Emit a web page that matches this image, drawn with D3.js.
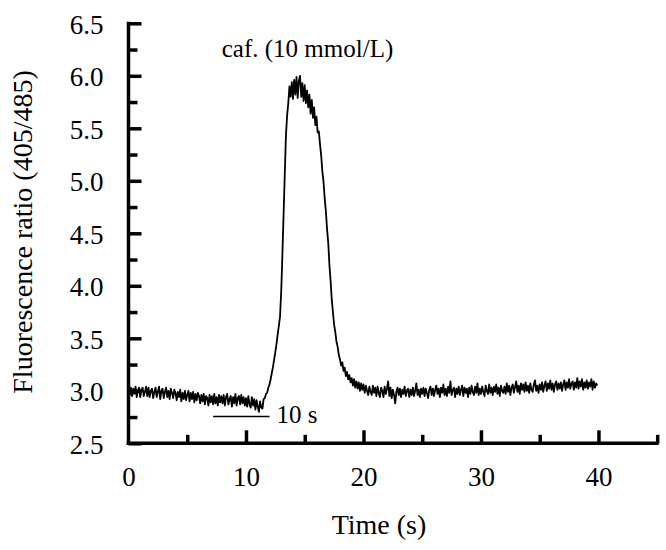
<!DOCTYPE html>
<html>
<head>
<meta charset="utf-8">
<script src="https://cdn.jsdelivr.net/npm/d3@7"></script>
<style>
  html, body { margin: 0; padding: 0; background: #fff; }
  svg { display: block; }
  text { font-family: "Liberation Serif", "Times New Roman", serif; fill: #000; }
</style>
</head>
<body>
<svg id="chart" width="666" height="550"></svg>
<script>
// ---- data ----
const timeStart = 0;      // s
const timeStep = 0.1;     // s between samples
const ratioValues = [
  3.01,2.96,3.03,2.95,3.02,2.97,3.04,2.94,3.00,3.03,
  2.94,3.01,3.03,2.95,2.99,3.04,2.95,3.03,2.94,3.00,
  3.02,2.93,2.99,3.03,2.94,2.99,3.04,2.92,3.00,3.02,
  2.93,2.99,3.03,2.94,3.00,2.92,3.02,2.98,2.93,3.01,
  2.98,2.91,2.99,2.94,3.01,2.90,2.98,2.92,3.00,2.91,
  2.96,3.00,2.90,2.98,2.92,2.99,2.89,2.97,2.91,2.98,
  2.95,2.88,2.96,2.90,2.97,2.87,2.95,2.93,2.86,2.96,
  2.89,2.95,2.87,2.97,2.88,2.94,2.86,2.96,2.89,2.95,
  2.88,2.96,2.86,2.94,2.97,2.87,2.92,2.95,2.85,2.94,
  2.88,2.97,2.86,2.93,2.95,2.87,2.96,2.88,2.94,2.86,
  2.93,2.85,2.95,2.87,2.84,2.94,2.86,2.92,2.82,2.91,
  2.85,2.80,2.90,2.84,2.83,2.92,2.93,2.97,2.98,3.03,
  3.06,3.11,3.17,3.23,3.30,3.37,3.45,3.54,3.62,3.71,
  3.95,4.30,4.68,5.06,5.43,5.62,5.74,5.90,5.80,5.94,
  5.78,5.96,5.82,5.99,5.79,5.95,6.00,5.80,5.93,5.76,
  5.91,5.74,5.86,5.70,5.82,5.64,5.77,5.60,5.70,5.53,
  5.61,5.46,5.47,5.35,5.24,5.09,4.99,4.83,4.71,4.54,
  4.41,4.20,4.05,3.87,3.75,3.63,3.56,3.47,3.42,3.34,
  3.30,3.24,3.27,3.19,3.22,3.14,3.18,3.11,3.15,3.08,
  3.12,3.05,3.11,3.03,3.09,3.02,3.08,3.00,3.07,3.01,
  3.06,2.98,3.05,3.00,2.96,3.04,2.99,2.96,3.05,2.98,
  3.03,2.95,3.04,2.98,2.94,3.03,3.00,2.94,3.04,2.97,
  3.02,3.09,2.95,3.03,2.93,3.01,2.96,2.88,2.99,3.03,
  2.96,3.02,2.94,3.01,2.97,3.04,2.95,3.00,3.02,2.94,
  3.01,2.96,3.03,2.95,3.00,3.07,2.96,3.01,2.94,3.02,
  2.97,3.03,2.95,3.02,2.98,2.93,3.01,3.04,2.96,3.02,
  2.95,3.01,3.05,2.97,3.02,2.94,3.03,2.98,3.06,2.96,
  3.02,2.95,3.04,2.98,3.09,2.96,3.01,3.03,2.94,3.02,
  2.97,3.04,2.96,3.01,3.05,2.95,3.03,2.98,3.02,2.94,
  3.03,2.97,3.05,2.99,2.96,3.04,2.98,3.07,2.96,3.02,
  2.97,3.04,2.99,2.95,3.05,3.00,2.97,3.06,2.98,3.03,
  2.96,3.04,2.99,3.06,2.97,3.03,2.95,3.05,3.00,2.98,
  3.04,2.97,3.07,2.99,3.05,2.96,3.03,3.06,2.98,3.04,
  3.09,2.99,3.05,2.97,3.07,3.01,3.06,2.99,3.08,3.00,
  3.05,2.98,3.07,3.01,2.99,3.06,3.10,3.00,3.05,2.98,
  3.06,3.01,3.08,2.99,3.05,3.09,3.00,3.07,3.02,3.10,
  3.01,3.07,2.99,3.06,3.09,3.01,3.07,3.02,3.08,3.00,
  3.06,3.10,3.01,3.08,3.03,3.11,3.02,3.07,3.09,3.01,
  3.08,3.03,3.12,3.02,3.09,3.04,3.11,3.01,3.08,3.03,
  3.10,3.02,3.08,3.04,3.11,3.01,3.09,3.03,3.07,3.05
];
const xMajorTicks = [0, 10, 20, 30, 40];
const xMinorTicks = [5, 15, 25, 35, 45];
const yMajorTicks = [2.5, 3.0, 3.5, 4.0, 4.5, 5.0, 5.5, 6.0, 6.5];
const yMinorTicks = [2.75, 3.25, 3.75, 4.25, 4.75, 5.25, 5.75, 6.25];
const xDomain = [0, 45];
const yDomain = [2.5, 6.5];
const xTitle = "Time (s)";
const yTitle = "Fluorescence ratio (405/485)";
const annotation = "caf. (10 mmol/L)";
const scaleBarLabel = "10 s";
const scaleBarSpan = [7.2, 12.0]; // in time units, as drawn

// ---- chart ----
const svg = d3.select("#chart");
const x = d3.scaleLinear().domain(xDomain).range([128.5, 657.2]);
const y = d3.scaleLinear().domain(yDomain).range([443.3, 23.3]);

const points = ratioValues.map((v, i) => ({ t: timeStart + i * timeStep, v }));

function thick(g) {
  g.selectAll("line, path")
    .style("stroke", "#000")
    .style("stroke-width", "3.5px")
    .style("stroke-linecap", "butt");
}

// trace
svg.append("path")
  .datum(points)
  .attr("fill", "none")
  .attr("stroke", "#000")
  .style("stroke-width", "1.8px")
  .attr("stroke-linejoin", "round")
  .attr("d", d3.line().x(d => x(d.t)).y(d => y(d.v)));

// y axis minor
svg.append("g")
  .attr("transform", "translate(128.5,0)")
  .call(d3.axisLeft(y).tickValues(yMinorTicks).tickSizeInner(-9).tickSizeOuter(0).tickFormat(""))
  .call(g => g.select(".domain").remove())
  .call(thick);

// y axis major
const yAxis = svg.append("g")
  .attr("transform", "translate(128.5,0)")
  .call(d3.axisLeft(y).tickValues(yMajorTicks).tickSizeInner(-13).tickSizeOuter(0)
    .tickPadding(25).tickFormat(d3.format(".1f")));
yAxis.select(".domain").attr("d", `M0,${y(6.5) - 1.5}V${y(2.5) + 1.75}`);
yAxis.call(thick);
yAxis.selectAll("text").attr("font-size", 27).attr("font-family", "Liberation Serif").attr("dy", "0.36em");

// x axis minor
svg.append("g")
  .attr("transform", "translate(0,443.3)")
  .call(d3.axisBottom(x).tickValues(xMinorTicks).tickSizeInner(-8.5).tickSizeOuter(0).tickFormat(""))
  .call(g => g.select(".domain").remove())
  .call(thick);

// x axis major
const xAxis = svg.append("g")
  .attr("transform", "translate(0,443.3)")
  .call(d3.axisBottom(x).tickValues(xMajorTicks).tickSizeInner(-13).tickSizeOuter(0)
    .tickPadding(24).tickFormat(d3.format("d")));
xAxis.select(".domain").attr("d", `M${x(0) - 1.75},0H${x(45) + 1.5}`);
xAxis.selectAll(".tick").filter(d => d === 0).select("line").remove();
xAxis.call(thick);
xAxis.selectAll("text").attr("font-size", 27).attr("font-family", "Liberation Serif");

// axis titles
svg.append("text")
  .attr("x", 379).attr("y", 534)
  .attr("text-anchor", "middle")
  .attr("font-size", 28)
  .text(xTitle);

svg.append("text")
  .attr("transform", "translate(32,232) rotate(-90)")
  .attr("text-anchor", "middle")
  .attr("font-size", 28)
  .text(yTitle);

// annotation
svg.append("text")
  .attr("x", 307.5).attr("y", 56.5)
  .attr("text-anchor", "middle")
  .attr("font-size", 25)
  .text(annotation);

// scale bar
svg.append("line")
  .attr("x1", x(scaleBarSpan[0])).attr("x2", x(scaleBarSpan[1]))
  .attr("y1", 416.5).attr("y2", 416.5)
  .attr("stroke", "#000").attr("stroke-width", 1.6);
svg.append("text")
  .attr("x", x(scaleBarSpan[1]) + 7).attr("y", 423)
  .attr("font-size", 25)
  .text(scaleBarLabel);
</script>
</body>
</html>
